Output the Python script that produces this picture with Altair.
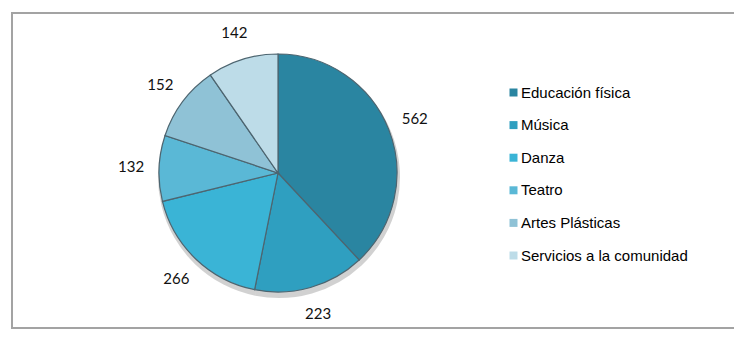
import altair as alt
import pandas as pd

categorias = ["Educación física", "Música", "Danza", "Teatro", "Artes Plásticas", "Servicios a la comunidad"]
valores = [562, 223, 266, 132, 152, 142]
colores = ["#2a85a1", "#2f9fc0", "#3ab4d6", "#5ab8d6", "#8fc2d6", "#bddce8"]

df = pd.DataFrame({"cat": categorias, "val": valores, "ord": list(range(len(valores)))})

CX, CY, R = 270, 165, 119

base = alt.Chart(df).encode(
    theta=alt.Theta("val:Q", stack=True),
    order=alt.Order("ord:Q"),
)

shadow = base.mark_arc(outerRadius=R + 2, x=CX + 1, y=CY + 4, color="#000000", opacity=0.18)

pie = base.mark_arc(outerRadius=R, x=CX, y=CY, stroke="#4d6570", strokeWidth=1.2).encode(
    color=alt.Color(
        "cat:N",
        scale=alt.Scale(domain=categorias, range=colores),
        sort=categorias,
        legend=alt.Legend(
            title=None,
            orient="none",
            legendX=498,
            legendY=77,
            symbolType="square",
            symbolSize=64,
            symbolStrokeWidth=0,
            labelFont="Liberation Sans",
            labelFontSize=15,
            labelColor="#000000",
            labelOffset=0,
            labelLimit=400,
            rowPadding=16.6,
            padding=0,
        ),
    )
)

labels = base.mark_text(
    radius=147, x=CX, y=CY, font="Lato", fontSize=15, color="#111111"
).encode(text="val:Q")

frame_df = pd.DataFrame({"a": [0]})
frame = alt.Chart(frame_df).mark_rect(fill=None, stroke="#a3a3a3", strokeWidth=2).encode(
    x=alt.value(4), x2=alt.value(740), y=alt.value(5), y2=alt.value(320)
)

chart = alt.layer(frame, shadow, pie, labels).properties(
    width=726, height=321, padding=0, autosize=alt.AutoSizeParams(type="none")
).configure_view(stroke=None)

chart.save("out.html", embed_options={"renderer": "svg", "actions": False})
